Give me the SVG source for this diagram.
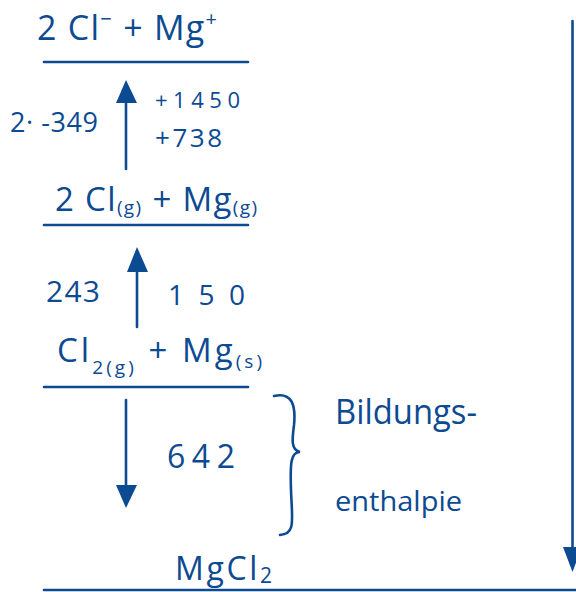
<svg xmlns="http://www.w3.org/2000/svg" width="576" height="592" viewBox="0 0 576 592">
<style>
.ln{stroke:#0c4a92;stroke-width:2.6;fill:none;stroke-linecap:round}
.t{fill:#0c4a92;font-family:"Open Sans","Liberation Sans",sans-serif;font-weight:400}
.hd{fill:#0c4a92}
</style>
<rect width="576" height="592" fill="#ffffff"/>
<g id="level-ions">
<line class="ln" x1="44" y1="62" x2="248" y2="62"/>
<text class="t" x="37" y="40" font-size="34" textLength="180" lengthAdjust="spacing">2 Cl<tspan dy="-14" font-size="20">−</tspan><tspan dy="14"> + Mg</tspan><tspan dy="-14" font-size="20">+</tspan></text>
</g>
<g id="level-gas-atoms">
<line class="ln" x1="44" y1="225" x2="248" y2="225"/>
<text class="t" x="55" y="211" font-size="33" textLength="202" lengthAdjust="spacing">2 Cl<tspan font-size="19" dy="3">(g)</tspan><tspan dy="-3"> + Mg</tspan><tspan font-size="19" dy="3">(g)</tspan></text>
</g>
<g id="level-elements">
<line class="ln" x1="44" y1="387" x2="248" y2="387"/>
<text class="t" x="57" y="362" font-size="33" textLength="205" lengthAdjust="spacing">Cl<tspan font-size="19" dy="12">2(g)</tspan><tspan dy="-12"> + Mg</tspan><tspan font-size="19" dy="6">(s)</tspan></text>
</g>
<g id="level-product">
<line class="ln" x1="44" y1="590" x2="576" y2="590"/>
<text class="t" x="175" y="580" font-size="32" textLength="97" lengthAdjust="spacing">MgCl<tspan font-size="21" dy="3">2</tspan></text>
</g>
<g id="connectors">
<line class="ln" x1="126" y1="169" x2="126" y2="100"/>
<polygon class="hd" points="126,80 116,103 137,103"/>
<line class="ln" x1="137" y1="327" x2="137" y2="268"/>
<polygon class="hd" points="137,247 127,272 148,272"/>
<line class="ln" x1="126" y1="400" x2="126" y2="488"/>
<polygon class="hd" points="126,508 116,485 137,485"/>
<line class="ln" x1="572.5" y1="21" x2="572.5" y2="552"/>
<polygon class="hd" points="572.5,572 563,547 582,547"/>
<path class="ln" d="M274,396 C292,392 296,405 294,425 C292,440 291,450 300,452 C291,452 290,462 291,490 C292,520 296,534 280,535"/>
</g>
<g id="labels">
<text class="t" x="10" y="132" font-size="27" textLength="88" lengthAdjust="spacing">2· -349</text>
<text class="t" x="155" y="108" font-size="22" textLength="85" lengthAdjust="spacing">+1450</text>
<text class="t" x="155" y="147" font-size="26" textLength="67" lengthAdjust="spacing">+738</text>
<text class="t" x="46" y="302" font-size="30" textLength="54" lengthAdjust="spacing">243</text>
<text class="t" x="168" y="305" font-size="28" textLength="77" lengthAdjust="spacing">150</text>
<text class="t" x="167" y="468" font-size="32" textLength="68" lengthAdjust="spacing">642</text>
<text class="t" x="335" y="424" font-size="34" textLength="142" lengthAdjust="spacingAndGlyphs">Bildungs-</text>
<text class="t" x="335" y="511" font-size="28" textLength="127" lengthAdjust="spacingAndGlyphs">enthalpie</text>
</g>
</svg>
